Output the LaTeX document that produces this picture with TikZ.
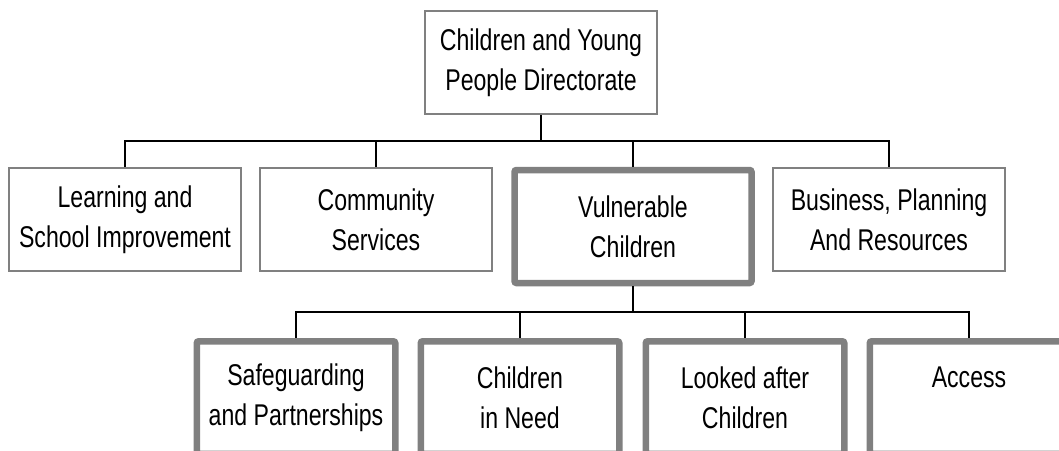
\documentclass[tikz,border=0pt]{standalone}
\usepackage{fontspec}
\setmainfont{Liberation Sans}[FakeStretch=0.77]
\usetikzlibrary{positioning}
\definecolor{boxgray}{RGB}{128,128,128}

\begin{document}
\begin{tikzpicture}
  [x=0.5pt,y=-0.5pt,
   every node/.style={rectangle,draw=boxgray,fill=white,align=center,inner sep=0pt,
     font=\fontsize{15}{20}\selectfont},
   unit/.style={line width=0.75pt,minimum width=116pt,minimum height=51.5pt},
   team/.style={line width=3.25pt,rounded corners=1pt,minimum width=118.5pt,minimum height=56.5pt},
   subteam/.style={team,minimum width=99.25pt,minimum height=56.25pt},
   link/.style={draw=black,line width=1pt}]

  \path[use as bounding box,clip] (0,0) rectangle (1059,450);

  \node[unit] (d0) at (541,62.5) {Children and Young\\People Directorate};

  \node[unit] (u1) at (125,219.5) {Learning and\\School Improvement};
  \node[unit] (u2) at (376,219.5) {Community\\Services};
  \node[team] (u3) at (633,226.5) {Vulnerable\\Children};
  \node[unit] (u4) at (889,219.5) {Business, Planning\\And Resources};

  \node[subteam] (v1) at (296,397.5) {Safeguarding\\and Partnerships};
  \node[subteam] (v2) at (520,397.5) {Children\\in Need};
  \node[subteam] (v3) at (745,397.5) {Looked after\\Children};
  \node[subteam] (v4) at (969,397.5) {Access\\\phantom{C}};

  \coordinate (b0) at (541,141);
  \coordinate (b1) at (633,312);

  \draw[link] (d0) -- (b0);
  \draw[link] (b0) -| (u1);
  \draw[link] (b0) -| (u2);
  \draw[link] (b0) -| (u3);
  \draw[link] (b0) -| (u4);

  \draw[link,line width=0.8pt] (u3) -- (b1);
  \draw[link,line width=0.8pt] (b1) -| (v1);
  \draw[link,line width=0.8pt] (b1) -| (v2);
  \draw[link,line width=0.8pt] (b1) -| (v3);
  \draw[link,line width=0.8pt] (b1) -| (v4);

\end{tikzpicture}
\end{document}
